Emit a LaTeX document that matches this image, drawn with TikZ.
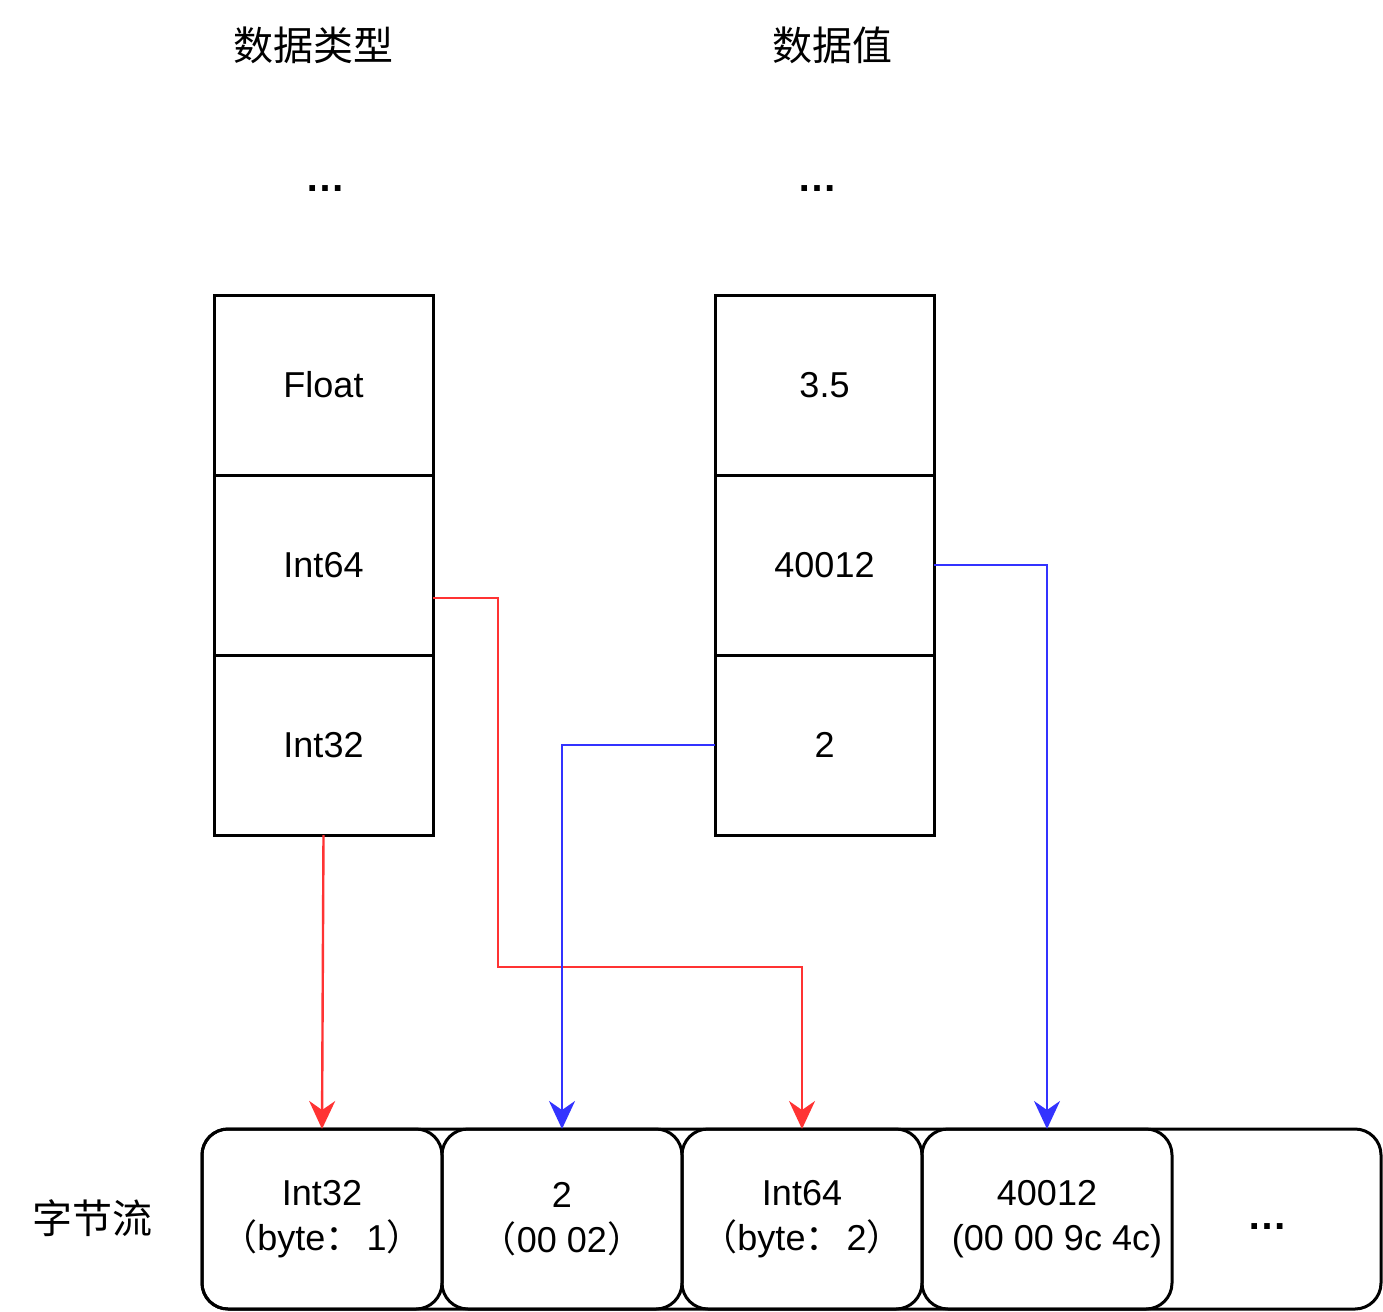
\documentclass[tikz,border=0pt]{standalone}
\usepackage{fontspec}
\setmainfont{Liberation Sans}
\newfontfamily\cjk{Noto Sans CJK SC}
\usetikzlibrary{positioning, arrows.meta}

\definecolor{linkred}{HTML}{FF3333}
\definecolor{linkblue}{HTML}{3333FF}
\newcommand{\zh}[1]{{\cjk #1}}

\tikzset{
  cell/.style={draw, line width=3pt, minimum width=219pt, minimum height=180pt,
    outer sep=0pt, inner sep=0pt, font=\fontsize{36}{44}\selectfont},
  bytebox/.style={draw, line width=3pt, rounded corners=26pt, minimum width=240pt,
    minimum height=180pt, outer sep=0pt, inner sep=0pt, align=center,
    font=\fontsize{36}{45}\selectfont},
  heading/.style={font=\cjk\fontsize{40}{48}\selectfont},
  etc/.style={font=\bfseries\fontsize{40}{48}\selectfont, inner sep=0pt},
  redlink/.style={draw=linkred, line width=2.4pt, -{Stealth[length=28pt,width=26pt,inset=9pt]}},
  bluelink/.style={draw=linkblue, line width=2.4pt, -{Stealth[length=28pt,width=26pt,inset=9pt]}},
}

\begin{document}
\begin{tikzpicture}[x=1pt, y=-1pt]

\useasboundingbox (0,0) rectangle (1383,1311);

% Headings
\node[heading] (typeHead) at (313,45) {数据类型};
\node[heading] (valueHead) at (832,45) {数据值};
\node[etc] (typeMore) at (325,189) {…};
\node[etc] (valueMore) at (817,189) {…};

% Column of data types
\node[cell] (tFloat) at (323.5,385) {Float};
\node[cell, below=0pt of tFloat] (tInt64) {Int64};
\node[cell, below=0pt of tInt64] (tInt32) {Int32};

% Column of data values
\node[cell] (vFloat) at (824.5,385) {3.5};
\node[cell, below=0pt of vFloat] (vBig) {40012};
\node[cell, below=0pt of vBig] (vTwo) {2};

% Byte stream
\node[heading] (streamHead) at (92,1218) {字节流};
\node[bytebox, minimum width=1179pt] (stream) at (791.5,1219) {};
\node[bytebox] (b1) at (322,1219) {Int32\\\zh{（}byte\zh{：}\hspace{5pt}1\zh{）}};
\node[bytebox, right=0pt of b1] (b2) {2\\\zh{（}00 02\zh{）}};
\node[bytebox, right=0pt of b2] (b3) {Int64\\\zh{（}byte\zh{：}\hspace{5pt}2\zh{）}};
\node[bytebox, right=0pt of b3, minimum width=250pt] (b4) {40012\\\hspace*{20pt}(00 00 9c 4c)};
\node[etc] (streamMore) at (1267,1227) {…};

% Types into the stream
\draw[redlink] (tInt32.south) -- (b1.north);
\draw[redlink] ([yshift=-33pt]tInt64.east) -- ++(65,0) -- ++(0,369) -| (b3.north);

% Values into the stream
\draw[bluelink] (vTwo.west) -| (b2.north);
\draw[bluelink] (vBig.east) -| (b4.north);

\end{tikzpicture}
\end{document}
